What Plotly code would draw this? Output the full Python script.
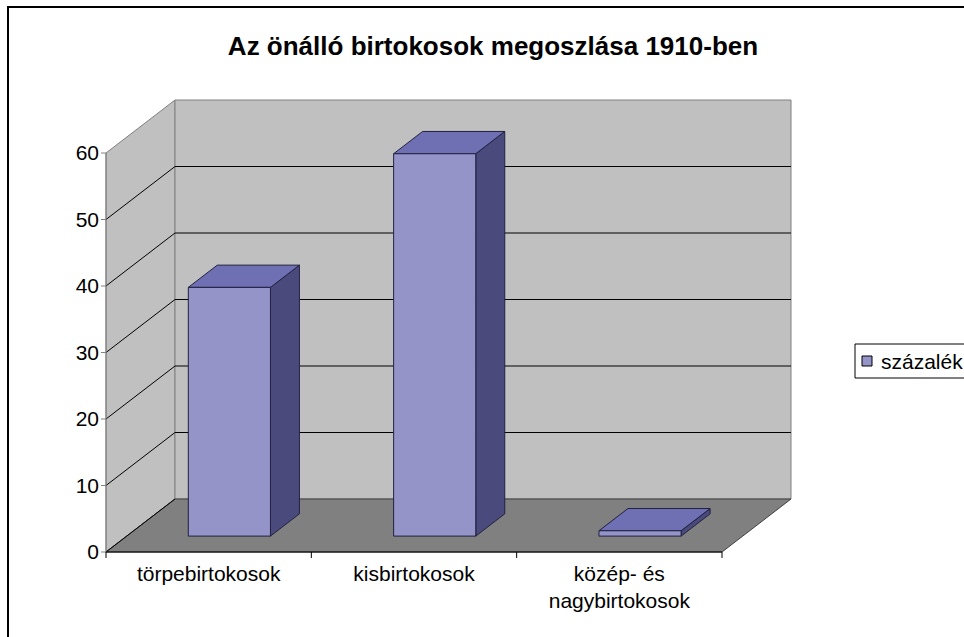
import plotly.graph_objects as go

# ---------------- data ----------------
categories = ["törpebirtokosok", "kisbirtokosok", "közép- és<br>nagybirtokosok"]
values = [37.4, 57.5, 0.8]
series_name = "százalék"
y_tick_values = [0, 10, 20, 30, 40, 50, 60]
title_text = "Az önálló birtokosok megoszlása 1910-ben"

# ---------------- geometry / style ----------------
W, H = 964, 637

FRONT_LEFT_PX = 106
FRONT_RIGHT_PX = 722
ZERO_PX = 552
TOP_PX = 153          # pixel of value 60 on the front axis
DEPTH_DX_PX = 69
DEPTH_DY_PX = 53
PAD_L, PAD_R, PAD_T, PAD_B = 6, 3, 3, 7
YMAX = 60

n = len(categories)
ux = (FRONT_RIGHT_PX - FRONT_LEFT_PX) / n
uy = (ZERO_PX - TOP_PX) / YMAX
DX = DEPTH_DX_PX / ux
DY = DEPTH_DY_PX / uy

x_lo, x_hi = -0.5, n - 0.5
xr = [x_lo - PAD_L / ux, x_hi + DX + PAD_R / ux]
yr = [0 - PAD_B / uy, YMAX + DY + PAD_T / uy]

ml = FRONT_LEFT_PX - PAD_L
mr = W - (FRONT_RIGHT_PX + DEPTH_DX_PX + PAD_R)
mt = ZERO_PX - (YMAX + DY) * uy - PAD_T
mb = H - (ZERO_PX + PAD_B)

WALL = "#C0C0C0"
FLOOR = "#808080"
EDGE = "#808080"
FRONT = "#9494C8"
TOPC = "#6F6FB4"
SIDE = "#4A4A7C"
FONT = "Liberation Sans, Arial, sans-serif"

BAR_Z0, BAR_Z1 = 0.30, 0.72
BAR_HALF = 0.20

fig = go.Figure()


def poly(xs, ys, fill, line, width=1):
    fig.add_trace(go.Scatter(
        x=list(xs) + [xs[0]], y=list(ys) + [ys[0]], mode="lines",
        fill="toself", fillcolor=fill, line=dict(color=line, width=width),
        hoverinfo="skip", showlegend=False))


def segs(pairs, color, width=1):
    xs, ys = [], []
    for (x0, y0), (x1, y1) in pairs:
        xs += [x0, x1, None]
        ys += [y0, y1, None]
    fig.add_trace(go.Scatter(x=xs, y=ys, mode="lines",
                             line=dict(color=color, width=width),
                             hoverinfo="skip", showlegend=False))


# walls and floor
poly([x_lo, x_lo, x_lo + DX, x_lo + DX], [0, YMAX, YMAX + DY, DY], WALL, EDGE)
poly([x_lo + DX, x_hi + DX, x_hi + DX, x_lo + DX], [DY, DY, YMAX + DY, YMAX + DY], WALL, EDGE)
poly([x_lo, x_hi, x_hi + DX, x_lo + DX], [0, 0, DY, DY], FLOOR, "#404040")

# gridlines
grid_v = [v for v in y_tick_values if 0 < v < YMAX]
segs([((x_lo + DX, v + DY), (x_hi + DX, v + DY)) for v in grid_v], "black")
segs([((x_lo, v), (x_lo + DX, v + DY)) for v in [0] + grid_v], "black")

# front value-axis line and ticks
segs([((x_lo, 0), (x_lo, YMAX))], EDGE)
segs([((x_lo - 5 / ux, v), (x_lo, v)) for v in y_tick_values], EDGE)

# floor front edge and category ticks
segs([((x_lo, 0), (x_hi, 0))], "black")
bounds = [x_lo + k for k in range(n + 1)]
segs([((b, 0), (b, -6 / uy)) for b in bounds], "black")

# bars
for i, v in enumerate(values):
    xl = i - BAR_HALF
    xrr = i + BAR_HALF
    z0x, z0y = BAR_Z0 * DX, BAR_Z0 * DY
    z1x, z1y = BAR_Z1 * DX, BAR_Z1 * DY
    poly([xrr + z0x, xrr + z1x, xrr + z1x, xrr + z0x],
         [z0y, z1y, v + z1y, v + z0y], SIDE, "#202040")
    poly([xl + z0x, xrr + z0x, xrr + z1x, xl + z1x],
         [v + z0y, v + z0y, v + z1y, v + z1y], TOPC, "#202040")
    poly([xl + z0x, xrr + z0x, xrr + z0x, xl + z0x],
         [z0y, z0y, v + z0y, v + z0y], FRONT, "#202040")

# ---------------- layout ----------------
pw = W - ml - mr
ph = H - mt - mb


def px2paper(px, py):
    return (px - ml) / pw, (H - mb - py) / ph


shapes = []
bx0, by0 = px2paper(8, 7)
bx1, by1 = px2paper(990, 660)
shapes.append(dict(type="rect", xref="paper", yref="paper", x0=bx0, y0=by1, x1=bx1, y1=by0,
                   line=dict(color="black", width=2), layer="below"))
lx0, ly0 = px2paper(855, 344)
lx1, ly1 = px2paper(990, 378)
shapes.append(dict(type="rect", xref="paper", yref="paper", x0=lx0, y0=ly1, x1=lx1, y1=ly0,
                   line=dict(color="black", width=1), fillcolor="white"))
sx0, sy0 = px2paper(862, 356)
sx1, sy1 = px2paper(872, 366)
shapes.append(dict(type="rect", xref="paper", yref="paper", x0=sx0, y0=sy1, x1=sx1, y1=sy0,
                   line=dict(color="black", width=1), fillcolor=FRONT))
tx, ty = px2paper(879, 361)

fig.update_layout(
    width=W, height=H,
    margin=dict(l=ml, r=mr, t=mt, b=mb, pad=0),
    paper_bgcolor="white", plot_bgcolor="white",
    showlegend=False,
    font=dict(family=FONT, size=21, color="black"),
    title=dict(text="<b>" + title_text + "</b>", x=493 / W, xref="container", xanchor="center",
               y=1 - 46 / H, yref="container", yanchor="middle",
               font=dict(family=FONT, size=26, color="black")),
    xaxis=dict(range=xr, showgrid=False, zeroline=False, showline=False,
               tickmode="array", tickvals=list(range(n)), ticktext=categories,
               ticks="", tickfont=dict(size=21), fixedrange=True),
    yaxis=dict(range=yr, showgrid=False, zeroline=False, showline=False,
               tickmode="array", tickvals=y_tick_values,
               ticks="", tickfont=dict(size=21), fixedrange=True),
    shapes=shapes,
    annotations=[dict(text=series_name, xref="paper", yref="paper", x=tx, y=ty,
                      xanchor="left", yanchor="middle", showarrow=False,
                      font=dict(family=FONT, size=21, color="black"))],
)

fig.write_html("out.html",
               config={"displayModeBar": False},
               post_script="document.body.style.margin='0px';"
                           "document.documentElement.style.overflow='hidden';")
